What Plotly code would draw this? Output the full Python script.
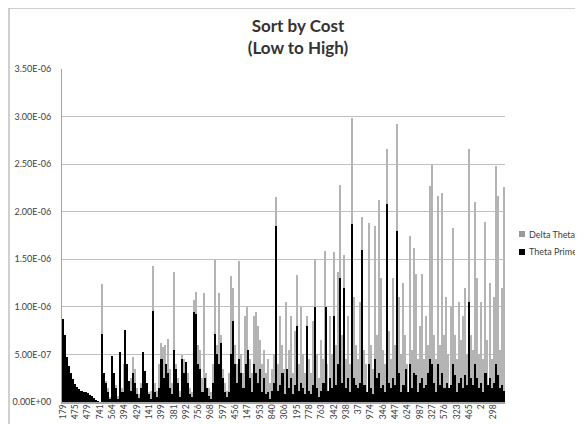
import plotly.graph_objects as go

# Values, in units of 1e-8 (i.e. 100 = 1.00E-06)
theta_prime = [
    87, 70, 47, 38, 30, 24, 19, 16, 14, 12, 11, 10, 9, 7, 6, 4, 2, 1, 0,
    72, 30, 20, 10, 3, 48, 30, 15, 3, 53, 10, 76, 40, 22, 12, 30, 20, 8, 4, 15, 53,
    33, 20, 8, 3, 96, 10, 5, 15, 45, 25, 40, 30, 15, 8, 55, 35, 20, 5, 45, 30,
    42, 20, 8, 5, 95, 92, 40, 35, 10, 25, 15, 6, 3, 20, 72, 50, 40, 62, 25, 10,
    5, 10, 50, 85, 40, 20, 45, 30, 15, 40, 55, 25, 10, 40, 30, 20, 35, 10, 25, 8,
    10, 3, 12, 20, 185, 12, 18, 30, 8, 35, 15, 25, 8, 18, 80, 12, 20, 15, 8, 80,
    12, 8, 18, 100, 15, 5, 12, 20, 100, 12, 25, 15, 90, 18, 40, 130, 20, 120, 15, 25,
    10, 187, 25, 18, 15, 20, 160, 18, 10, 40, 15, 8, 45, 25, 30, 15, 18, 10, 208, 20,
    15, 25, 18, 180, 30, 10, 18, 35, 10, 40, 15, 30, 28, 10, 20, 25, 15, 18, 30, 45,
    40, 20, 10, 40, 18, 30, 15, 20, 15, 18, 40, 28, 10, 20, 25, 15, 28, 18, 105, 25,
    18, 40, 25, 15, 20, 10, 30, 18, 25, 15, 20, 40, 28, 15, 18, 12,
]
delta_theta = [
    0, 1, 1, 1, 1, 1, 1, 1, 1, 1, 1, 1, 1, 1, 1, 1, 0, 0, 0,
    124, 30, 22, 15, 5, 45, 28, 18, 6, 30, 15, 40, 30, 20, 25, 47, 35, 15, 8, 20, 30,
    25, 15, 10, 12, 143, 20, 12, 40, 62, 58, 60, 66, 35, 20, 137, 40, 25, 12, 49, 45,
    42, 30, 15, 10, 107, 116, 60, 55, 25, 115, 30, 15, 10, 40, 149, 60, 115, 70, 35, 20,
    12, 30, 132, 120, 60, 40, 148, 50, 30, 90, 100, 45, 30, 90, 95, 80, 65, 40, 55, 30,
    45, 20, 35, 50, 215, 40, 90, 60, 35, 105, 55, 90, 30, 75, 133, 40, 100, 50, 30, 90,
    45, 30, 85, 150, 50, 25, 65, 45, 159, 40, 90, 50, 158, 60, 137, 228, 70, 155, 45, 90,
    40, 298, 110, 60, 45, 105, 194, 55, 40, 188, 60, 35, 185, 70, 212, 130, 55, 40, 266, 75,
    45, 130, 60, 292, 110, 50, 125, 70, 40, 174, 55, 162, 135, 45, 80, 135, 45, 90, 60, 227,
    249, 70, 45, 216, 60, 220, 70, 110, 50, 100, 183, 70, 45, 105, 65, 90, 120, 50, 266, 70,
    55, 210, 130, 50, 105, 45, 189, 65, 125, 45, 110, 248, 217, 55, 120, 226,
]
tick_labels = ["179", "475", "479", "741", "564", "394", "429", "141", "399", "381",
               "992", "756", "968", "597", "456", "147", "953", "840", "306", "195",
               "778", "763", "342", "938", "37", "974", "346", "447", "624", "987",
               "327", "576", "323", "465", "2", "298"]
y_tick_values = [0, 5e-7, 1e-6, 1.5e-6, 2e-6, 2.5e-6, 3e-6, 3.5e-6]
y_tick_text = ["0.00E+00", "5.00E-07", "1.00E-06", "1.50E-06", "2.00E-06",
               "2.50E-06", "3.00E-06", "3.50E-06"]
series_names = ["Delta Theta", "Theta Prime"]

SCALE = 1e-8
n = len(theta_prime)
x = list(range(n))
label_step = 6
tick_positions = [i * label_step for i in range(len(tick_labels))]

DT_COLOR = "#b4b4b4"
TP_COLOR = "#000000"
LEGEND_COLORS = ["#9a9a9a", TP_COLOR]

fig = go.Figure()
fig.add_trace(go.Bar(x=x, y=[v * SCALE for v in delta_theta], name=series_names[0],
                     width=0.6, showlegend=False,
                     marker=dict(color=DT_COLOR, line=dict(width=0))))
fig.add_trace(go.Bar(x=x, y=[v * SCALE for v in theta_prime], name=series_names[1],
                     showlegend=False,
                     marker=dict(color=TP_COLOR, line=dict(width=0))))

# page body has an 8px default margin: lay the figure out in page pixels minus 8
OFF = 8
W, H = 583 - OFF, 424 - OFF
L, R, T, B = 62 - OFF, 505 - OFF, 69 - OFF, 402 - OFF


def px_x(p):  # page pixel -> paper x
    return (p - OFF - L) / (R - L)


def px_y(p):  # page pixel -> paper y
    return (B - (p - OFF)) / (B - T)


shapes = [dict(type="rect", xref="paper", yref="paper",
               x0=px_x(9), x1=px_x(600), y0=px_y(440), y1=px_y(8),
               line=dict(color="#a0a0a0", width=1), fillcolor="rgba(0,0,0,0)",
               layer="below")]
annotations = []
for i, (name, col) in enumerate(zip(series_names, LEGEND_COLORS)):
    yc = 234 + 18 * i
    shapes.append(dict(type="rect", xref="paper", yref="paper",
                       x0=px_x(519), x1=px_x(525), y0=px_y(yc + 3), y1=px_y(yc - 3),
                       line=dict(width=0), fillcolor=col))
    annotations.append(dict(text=name, xref="paper", yref="paper", x=px_x(527),
                            y=px_y(yc), xanchor="left", yanchor="middle", showarrow=False,
                            font=dict(family="Lato", size=9, color="#404040")))

fig.update_layout(
    width=W, height=H,
    margin=dict(l=L, r=W - R, t=T, b=H - B, pad=0, autoexpand=False),
    paper_bgcolor="white", plot_bgcolor="white",
    barmode="overlay", bargap=0,
    font=dict(family="Lato", color="#595959", size=9),
    title=dict(text="<b>Sort by Cost<br>(Low to High)</b>", x=(298 - OFF) / W, xanchor="center",
               y=1 - 24 / H, yanchor="top",
               font=dict(family="Lato", size=17, color="#333333")),
    showlegend=False,
    xaxis=dict(range=[-0.5, n - 0.5], tickmode="array", tickvals=tick_positions,
               ticktext=tick_labels, tickangle=-90, showgrid=False, zeroline=False,
               showline=True, linecolor="#a6a6a6", linewidth=2, ticks="",
               ticklabelstandoff=-3,
               tickfont=dict(size=8.5, color="#404040"), automargin=False),
    yaxis=dict(range=[0, 3.5e-6], tickmode="array", tickvals=y_tick_values,
               ticktext=y_tick_text, showgrid=True, gridcolor="#c0c0c0", gridwidth=1,
               zeroline=False, showline=True, linecolor="#a6a6a6", linewidth=1,
               ticks="", ticklabelstandoff=8, tickfont=dict(size=9, color="#404040"),
               automargin=False),
    shapes=shapes,
    annotations=annotations,
)

fig.write_html("out.html")
